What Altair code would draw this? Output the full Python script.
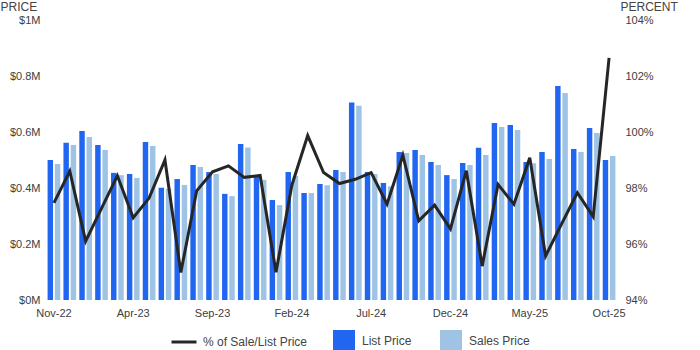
import altair as alt
import pandas as pd

months = ["Nov-22", "Dec-22", "Jan-23", "Feb-23", "Mar-23", "Apr-23", "May-23", "Jun-23", "Jul-23",
          "Aug-23", "Sep-23", "Oct-23", "Nov-23", "Dec-23", "Jan-24", "Feb-24", "Mar-24", "Apr-24",
          "May-24", "Jun-24", "Jul-24", "Aug-24", "Sep-24", "Oct-24", "Nov-24", "Dec-24", "Jan-25",
          "Feb-25", "Mar-25", "Apr-25", "May-25", "Jun-25", "Jul-25", "Aug-25", "Sep-25", "Oct-25"]

list_price = [0.500, 0.562, 0.604, 0.554, 0.454, 0.450, 0.564, 0.401, 0.432,
              0.482, 0.457, 0.379, 0.557, 0.440, 0.357, 0.457, 0.382, 0.414,
              0.464, 0.705, 0.457, 0.418, 0.529, 0.536, 0.493, 0.446, 0.489,
              0.544, 0.632, 0.625, 0.493, 0.529, 0.764, 0.539, 0.614, 0.500]

sales_price = [0.486, 0.554, 0.582, 0.536, 0.446, 0.436, 0.550, 0.397, 0.411,
               0.475, 0.450, 0.371, 0.545, 0.429, 0.339, 0.443, 0.382, 0.410,
               0.457, 0.694, 0.450, 0.406, 0.525, 0.518, 0.482, 0.432, 0.482,
               0.518, 0.618, 0.607, 0.488, 0.504, 0.739, 0.529, 0.596, 0.514]

pct_sale_list = [97.47, 98.60, 96.10, 97.27, 98.44, 96.94, 97.64, 99.00, 94.98,
                 97.90, 98.58, 98.79, 98.38, 98.45, 94.99, 98.10, 99.87, 98.55,
                 98.16, 98.31, 98.55, 97.43, 99.17, 96.83, 97.39, 96.54, 98.62,
                 95.21, 98.13, 97.42, 99.08, 95.57, 96.71, 97.83, 96.98, 102.65]

x_label_months = ["Nov-22", "Apr-23", "Sep-23", "Feb-24", "Jul-24", "Dec-24", "May-25", "Oct-25"]
bar_series = ["List Price", "Sales Price"]
bar_colors = ["#2166f1", "#9fc3e4"]
line_series = ["% of Sale/List Price"]
line_colors = ["#262626"]

FONT = "Liberation Sans"
LABEL_COLOR = "#404040"

bars_df = pd.DataFrame({
    "month": months * 2,
    "series": [bar_series[0]] * len(months) + [bar_series[1]] * len(months),
    "price": list_price + sales_price,
})
line_df = pd.DataFrame({
    "month": months,
    "series": line_series * len(months),
    "pct": pct_sale_list,
})

x_enc = alt.X(
    "month:N", sort=months,
    scale=alt.Scale(paddingInner=0.2, paddingOuter=0.1),
    axis=alt.Axis(values=x_label_months, labelAngle=0, title=None, domain=False, ticks=False,
                  labelPadding=7, labelFontSize=11, labelColor=LABEL_COLOR, labelFont=FONT,
                  grid=False),
)

bars = alt.Chart(bars_df).mark_bar().encode(
    x=x_enc,
    xOffset=alt.XOffset("series:N", sort=bar_series, scale=alt.Scale(paddingInner=0.25)),
    y=alt.Y("price:Q", stack=None,
            scale=alt.Scale(domain=[0, 1], nice=False),
            axis=alt.Axis(orient="left", values=[0, 0.2, 0.4, 0.6, 0.8, 1.0],
                          labelExpr="'$' + format(datum.value, '.1~f') + 'M'",
                          grid=False, domain=False, ticks=False, labelPadding=6,
                          labelFontSize=11, labelColor=LABEL_COLOR, labelFont=FONT,
                          title="PRICE", titleAngle=0, titleAlign="left", titleBaseline="alphabetic",
                          titleX=-46, titleY=-10, titleFontSize=12, titleFontWeight="normal",
                          titleColor="#444444", titleFont=FONT)),
    fill=alt.Fill("series:N", sort=bar_series,
                  scale=alt.Scale(domain=bar_series, range=bar_colors),
                  legend=alt.Legend(title=None, orient="none", legendX=287, legendY=310,
                                    direction="horizontal", symbolType="square", symbolSize=484,
                                    symbolStrokeWidth=0, labelOffset=7, columnPadding=28,
                                    labelFontSize=12, labelColor="#444444", labelFont=FONT,
                                    padding=0)),
)

line = alt.Chart(line_df).mark_line(strokeWidth=3, strokeJoin="miter").encode(
    x=x_enc,
    y=alt.Y("pct:Q",
            scale=alt.Scale(domain=[94, 104], nice=False, zero=False),
            axis=alt.Axis(orient="right", values=[94, 96, 98, 100, 102, 104],
                          labelExpr="datum.value + '%'",
                          grid=False, domain=False, ticks=False, labelPadding=8,
                          labelFontSize=11, labelColor=LABEL_COLOR, labelFont=FONT,
                          title="PERCENT", titleAngle=0, titleAlign="left", titleBaseline="alphabetic",
                          titleX=3, titleY=-10, titleFontSize=12, titleFontWeight="normal",
                          titleColor="#444444", titleFont=FONT)),
    stroke=alt.Stroke("series:N",
                      scale=alt.Scale(domain=line_series, range=line_colors),
                      legend=alt.Legend(title=None, orient="none", legendX=124, legendY=308,
                                        symbolType="stroke", symbolSize=625, symbolStrokeWidth=3,
                                        labelOffset=5, labelFontSize=12, labelColor="#444444",
                                        labelFont=FONT, padding=0)),
)

chart = alt.layer(bars, line).resolve_scale(
    y="independent"
).properties(
    width=571, height=280,
    padding={"left": 46, "top": 20, "right": 83, "bottom": 50},
    autosize=alt.AutoSizeParams(type="none"),
).configure_view(stroke=None)

chart.save("out.html", embed_options={"renderer": "svg", "actions": False})
